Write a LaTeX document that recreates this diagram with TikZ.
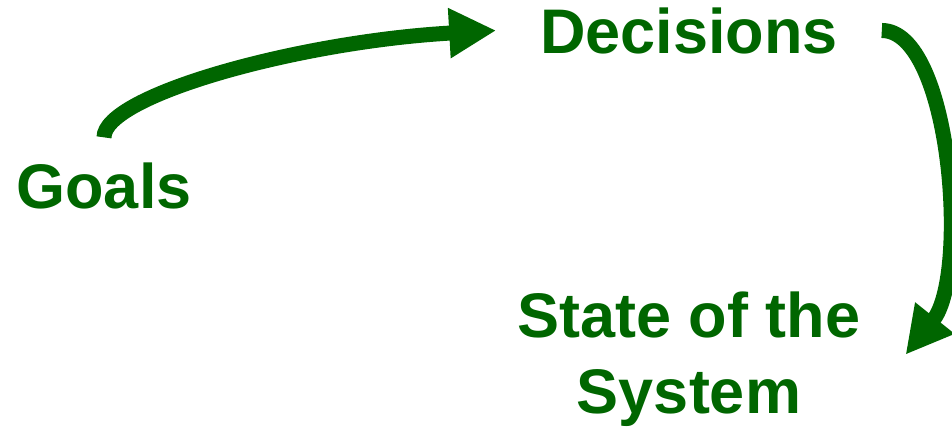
\documentclass[tikz,border=0pt]{standalone}
\usepackage{fontspec}
\setmainfont{Liberation Sans}
\usetikzlibrary{arrows.meta}
\definecolor{leafgreen}{RGB}{0,102,0}
\tikzset{
  label/.style={text=leafgreen, font=\fontsize{63}{76}\selectfont\bfseries,
    inner sep=0pt, outer sep=0pt, align=center},
  flow/.style={draw=leafgreen, line width=15pt,
    -{Triangle[length=47pt,width=47pt]}}
}
\begin{document}
\begin{tikzpicture}[x=1pt,y=-1pt]
  \clip (0,0) rectangle (952,429);
  \node[label, anchor=base] (goals) at (104,208) {Goals};
  \node[label, anchor=base] (decisions) at (689,53) {Decisions};
  % base anchor of a two-line node sits on the last line
  \node[label, anchor=base] (state) at (689,413) {State of the\\System};
  % goals -> decisions
  \draw[flow] ([yshift=25pt]goals.north)
    .. controls +(0,-42) and +(-197,11) .. ([xshift=-44pt]decisions.west);
  % decisions -> state of the system
  \draw[flow] ([xshift=44pt]decisions.east)
    .. controls +(69,0) and +(64,-80) .. ([xshift=45pt,yshift=4pt]state.east);
\end{tikzpicture}
\end{document}
